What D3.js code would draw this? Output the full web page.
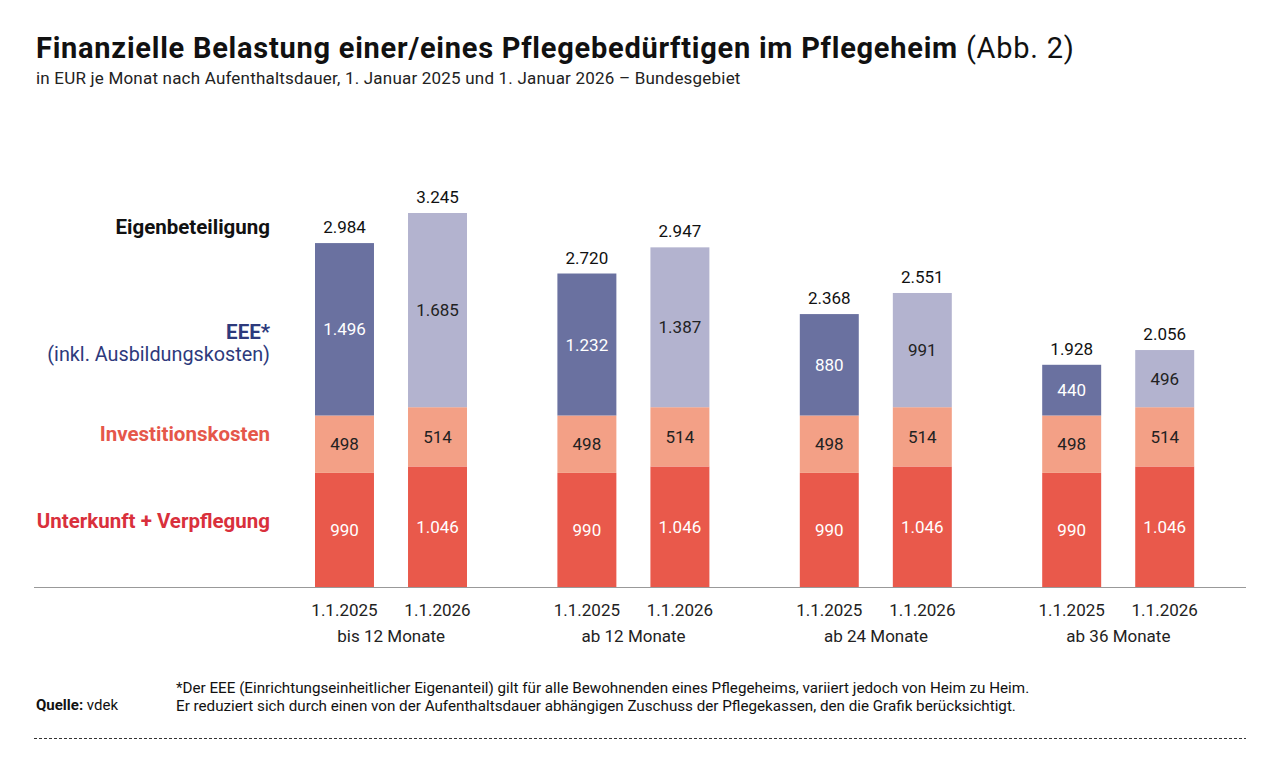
<html>
<head>
<script src="https://cdnjs.cloudflare.com/ajax/libs/d3/7.8.5/d3.min.js"></script>
<meta charset="utf-8">
<title>Abb. 2</title>
<style>
  body { margin: 0; background: #fff; }
  text { font-family: Roboto, "Liberation Sans", sans-serif; }
</style>
</head>
<body>
<script type="text/javascript">

	// data
	var categories = ["bis 12 Monate", "ab 12 Monate", "ab 24 Monate", "ab 36 Monate"];
	var years = ["1.1.2025", "1.1.2026"];
	var unterkunft2025 = [990, 990, 990, 990];
	var unterkunft2026 = [1046, 1046, 1046, 1046];
	var invest2025 = [498, 498, 498, 498];
	var invest2026 = [514, 514, 514, 514];
	var eee2025 = [1496, 1232, 880, 440];
	var eee2026 = [1685, 1387, 991, 496];

	var w = 1280;
	var h = 773;
	var baseY = 587;

	var fmt = function(v) { return d3.format(",")(v).replace(/,/g, "."); };

	var rows = [];
	categories.forEach(function(c, i) {
		years.forEach(function(y, j) {
			rows.push({
				cat: c, year: y, j: j,
				uv: j == 0 ? unterkunft2025[i] : unterkunft2026[i],
				inv: j == 0 ? invest2025[i] : invest2026[i],
				eee: j == 0 ? eee2025[i] : eee2026[i]
			});
		});
	});

	var svg = d3.select("body").append("svg")
		.attr("width", w)
		.attr("height", h);

	var x0 = d3.scaleBand().domain(categories).range([270, 1239.6]);
	var x1 = d3.scaleBand().domain(years).range([45, 197]).paddingInner(0.366).paddingOuter(0);
	var y = d3.scaleLinear().domain([0, 3245]).range([baseY, 213]);

	var keys = ["uv", "inv", "eee"];
	var stack = d3.stack().keys(keys)(rows);

	var colors = {
		uv: function() { return "#e9594b"; },
		inv: function() { return "#f3a086"; },
		eee: function(d) { return d.data.j == 0 ? "#6a71a0" : "#b3b3cf"; }
	};
	var labelColor = {
		uv: function() { return "#fff"; },
		inv: function() { return "#222"; },
		eee: function(d) { return d.data.j == 0 ? "#fff" : "#222"; }
	};

	// title
	var title = svg.append("text").attr("x", 36).attr("y", 58)
		.attr("font-size", "29px").attr("letter-spacing", "0.75px").attr("fill", "#111");
	title.append("tspan").attr("font-weight", "bold")
		.text("Finanzielle Belastung einer/eines Pflegebedürftigen im Pflegeheim");
	title.append("tspan").attr("font-weight", "normal").text(" (Abb. 2)");

	svg.append("text").attr("x", 36).attr("y", 84)
		.attr("font-size", "17px").attr("letter-spacing", "0.2px").attr("fill", "#222")
		.text("in EUR je Monat nach Aufenthaltsdauer, 1. Januar 2025 und 1. Januar 2026 – Bundesgebiet");

	// bars
	stack.forEach(function(layer) {
		var k = layer.key;
		var g = svg.append("g");
		g.selectAll("rect")
			.data(layer)
			.enter()
			.append("rect")
			.attr("x", function(d) { return x0(d.data.cat) + x1(d.data.year); })
			.attr("y", function(d) { return y(d[1]); })
			.attr("width", x1.bandwidth())
			.attr("height", function(d) { return y(d[0]) - y(d[1]); })
			.attr("fill", colors[k]);
		g.selectAll("text")
			.data(layer)
			.enter()
			.append("text")
			.attr("x", function(d) { return x0(d.data.cat) + x1(d.data.year) + x1.bandwidth() / 2; })
			.attr("y", function(d) { return (y(d[0]) + y(d[1])) / 2 + 6; })
			.attr("text-anchor", "middle")
			.attr("font-size", "17px")
			.attr("fill", labelColor[k])
			.text(function(d) { return fmt(d[1] - d[0]); });
	});

	// totals
	svg.append("g").selectAll("text")
		.data(rows)
		.enter()
		.append("text")
		.attr("x", function(d) { return x0(d.cat) + x1(d.year) + x1.bandwidth() / 2; })
		.attr("y", function(d) { return y(d.uv + d.inv + d.eee) - 10; })
		.attr("text-anchor", "middle")
		.attr("font-size", "17px")
		.attr("fill", "#111")
		.text(function(d) { return fmt(d.uv + d.inv + d.eee); });

	// baseline
	svg.append("line").attr("x1", 34).attr("x2", 1246)
		.attr("y1", baseY + 0.5).attr("y2", baseY + 0.5)
		.attr("stroke", "#999").attr("stroke-width", 1.2);

	// x labels
	svg.append("g").selectAll("text")
		.data(rows)
		.enter()
		.append("text")
		.attr("x", function(d) { return x0(d.cat) + x1(d.year) + x1.bandwidth() / 2; })
		.attr("y", 616)
		.attr("text-anchor", "middle")
		.attr("font-size", "17px")
		.attr("fill", "#222")
		.text(function(d) { return d.year; });

	svg.append("g").selectAll("text")
		.data(categories)
		.enter()
		.append("text")
		.attr("x", function(d) { return x0(d) + x0.bandwidth() / 2; })
		.attr("y", 642)
		.attr("text-anchor", "middle")
		.attr("font-size", "17px")
		.attr("fill", "#222")
		.text(function(d) { return d; });

	// legend labels on the left
	var legend = [
		{ t: "Eigenbeteiligung", y: 234, c: "#111", b: true, s: 20.5 },
		{ t: "EEE*", y: 339, c: "#2d3a7c", b: true, s: 20.5 },
		{ t: "(inkl. Ausbildungskosten)", y: 361, c: "#2d3a7c", b: false, s: 19.8 },
		{ t: "Investitionskosten", y: 441, c: "#e5574a", b: true, s: 20.5 },
		{ t: "Unterkunft + Verpflegung", y: 528, c: "#d9303c", b: true, s: 20.5 }
	];
	svg.append("g").selectAll("text")
		.data(legend)
		.enter()
		.append("text")
		.attr("x", 270)
		.attr("y", function(d) { return d.y; })
		.attr("text-anchor", "end")
		.attr("font-size", function(d) { return d.s + "px"; })
		.attr("font-weight", function(d) { return d.b ? "bold" : "normal"; })
		.attr("fill", function(d) { return d.c; })
		.text(function(d) { return d.t; });

	// footer
	var q = svg.append("text").attr("x", 36).attr("y", 710)
		.attr("font-size", "15px").attr("fill", "#111");
	q.append("tspan").attr("font-weight", "bold").text("Quelle:");
	q.append("tspan").text(" vdek");

	svg.append("text").attr("x", 176).attr("y", 693)
		.attr("font-size", "15.2px").attr("fill", "#111")
		.text("*Der EEE (Einrichtungseinheitlicher Eigenanteil) gilt für alle Bewohnenden eines Pflegeheims, variiert jedoch von Heim zu Heim.");
	svg.append("text").attr("x", 176).attr("y", 711)
		.attr("font-size", "15.2px").attr("fill", "#111")
		.text("Er reduziert sich durch einen von der Aufenthaltsdauer abhängigen Zuschuss der Pflegekassen, den die Grafik berücksichtigt.");

	svg.append("line").attr("x1", 34).attr("x2", 1246)
		.attr("y1", 738.5).attr("y2", 738.5)
		.attr("stroke", "#333").attr("stroke-width", 1)
		.attr("stroke-dasharray", "3,2");
</script>
</body>
</html>
